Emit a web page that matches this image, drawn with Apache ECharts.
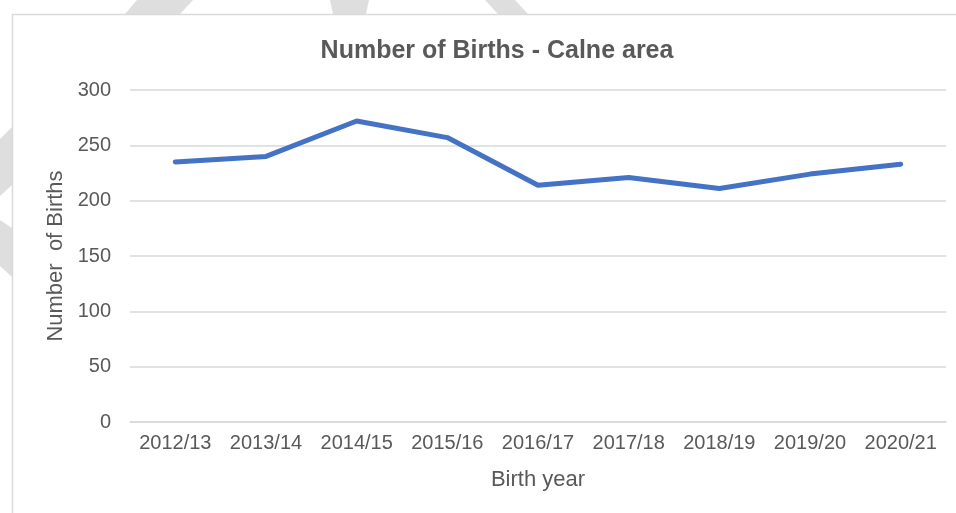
<!-- Number of Births - Calne area -->
<meta charset="UTF-8">
<script src="https://cdn.jsdelivr.net/npm/echarts@6/dist/echarts.min.js"></script>

<style>
    html, body {margin: 0; padding: 0; background: #ffffff;}
</style>
<div id="births" style="width:956px;height:513px;"></div>

<script>
    var years = ['2012/13', '2013/14', '2014/15', '2015/16', '2016/17', '2017/18', '2018/19', '2019/20', '2020/21'];
    var births = [235, 240, 272, 257, 214, 221, 211, 224, 233];
    var yTicks = [0, 50, 100, 150, 200, 250, 300];

    var chart = echarts.init(document.getElementById('births'));
    var textColor = '#595959';
    var markFill = '#dedede';
    var option = {
        backgroundColor: '#ffffff',
        animation: false,
        textStyle: {fontFamily: 'Liberation Sans, Arial, sans-serif'},
        graphic: [
            // background watermark strokes behind the chart frame
            {type: 'polygon', silent: true, shape: {points: [[137, 0], [193, 0], [180, 14], [125, 14]]}, style: {fill: markFill}},
            {type: 'polygon', silent: true, shape: {points: [[330, 0], [369, 0], [366, 14], [333, 14]]}, style: {fill: markFill}},
            {type: 'polygon', silent: true, shape: {points: [[485, 0], [515, 0], [528, 14], [498, 14]]}, style: {fill: markFill}},
            {type: 'polygon', silent: true, shape: {points: [[12, 127], [12, 185], [0, 196], [0, 139]]}, style: {fill: markFill}},
            {type: 'polygon', silent: true, shape: {points: [[0, 220], [12, 228], [12, 277], [0, 266]]}, style: {fill: markFill}},
            // chart frame
            {type: 'rect', silent: true, shape: {x: 12.5, y: 14.5, width: 960, height: 520}, style: {fill: 'none', stroke: '#d9d9d9', lineWidth: 1.5}}
        ],
        title: {
            text: 'Number of Births - Calne area',
            left: 492,
            textAlign: 'center',
            top: 34,
            textStyle: {color: textColor, fontSize: 25, fontWeight: 'bold', fontFamily: 'Liberation Sans, Arial, sans-serif'}
        },
        grid: {left: 130, right: 10, top: 90, bottom: 91},
        xAxis: {
            type: 'category',
            data: years,
            name: 'Birth year',
            nameLocation: 'middle',
            nameGap: 47,
            nameTextStyle: {color: textColor, fontSize: 22},
            axisLine: {lineStyle: {color: '#d9d9d9', width: 1.5}},
            axisTick: {show: false},
            axisLabel: {color: textColor, fontSize: 20, margin: 11, interval: 0}
        },
        yAxis: {
            type: 'value',
            min: yTicks[0],
            max: yTicks[yTicks.length - 1],
            interval: 50,
            name: 'Number  of Births',
            nameLocation: 'middle',
            nameGap: 62,
            nameTextStyle: {color: textColor, fontSize: 22},
            axisLine: {show: false},
            axisTick: {show: false},
            axisLabel: {color: textColor, fontSize: 20, margin: 19},
            splitLine: {lineStyle: {color: '#d9d9d9', width: 1.5}}
        },
        series: [{
            name: 'Number of Births',
            type: 'line',
            data: births,
            showSymbol: false,
            lineStyle: {color: '#4472c4', width: 5, cap: 'round', join: 'round'},
            itemStyle: {color: '#4472c4'}
        }]
    };
    chart.setOption(option);
</script>
